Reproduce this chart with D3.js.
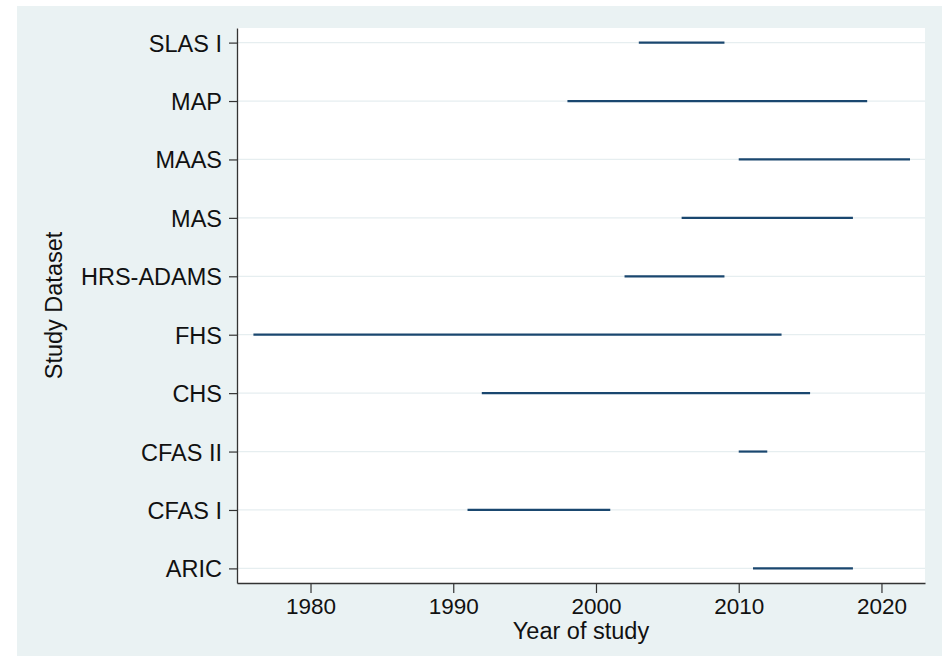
<!DOCTYPE html>
<html>
<head>
<meta charset="utf-8">
<script src="https://cdn.jsdelivr.net/npm/d3@7"></script>
<style>
  body { margin: 0; background: #ffffff; }
  text { font-family: "Liberation Sans", Arial, sans-serif; fill: #111; }
</style>
</head>
<body>
<div id="chart"></div>
<script>
// Study periods
var studies   = ["ARIC", "CFAS I", "CFAS II", "CHS", "FHS", "HRS-ADAMS", "MAS", "MAAS", "MAP", "SLAS I"];
var startYear = [2011, 1991, 2010, 1992, 1976, 2002, 2006, 2010, 1998, 2003];
var endYear   = [2018, 2001, 2012, 2015, 2013, 2009, 2018, 2022, 2019, 2009];
var xTicks    = [1980, 1990, 2000, 2010, 2020];

var width  = 942,
    height = 656,
    margins = {top: 28, right: 17, bottom: 73, left: 237};

var LABEL_SIZE = 23.5,
    NUM_SIZE   = 22.5;

var rows = studies.map(function(s, i){
    return {study: s, start: startYear[i], end: endYear[i]};
});

/* SVG */
var svg = d3.select("#chart")
    .append("svg")
        .attr("width", width)
        .attr("height", height);

/* Graph region background */
svg.append("rect")
    .attr("x", 17)
    .attr("y", 6)
    .attr("width", width - 17)
    .attr("height", height - 6)
    .attr("fill", "#eaf2f3");

/* Scales */
var x = d3.scaleLinear()
    .domain([1974.85, 2023.05])
    .range([margins.left, width - margins.right]);

var y = d3.scalePoint()
    .domain(studies.slice().reverse())
    .range([margins.top, height - margins.bottom])
    .padding(0.25);

/* Plot region */
svg.append("rect")
    .attr("x", margins.left)
    .attr("y", margins.top)
    .attr("width", width - margins.right - margins.left)
    .attr("height", height - margins.bottom - margins.top)
    .attr("fill", "#ffffff");

/* Gridlines */
svg.append("g")
    .attr("class", "grid")
    .selectAll("line")
    .data(studies)
    .enter()
    .append("line")
        .attr("x1", margins.left)
        .attr("x2", width - margins.right)
        .attr("y1", function(d){ return y(d); })
        .attr("y2", function(d){ return y(d); })
        .attr("stroke", "#e6eef0")
        .attr("stroke-width", 1.2);

/* Study ranges */
svg.append("g")
    .attr("class", "ranges")
    .selectAll("line")
    .data(rows)
    .enter()
    .append("line")
        .attr("x1", function(d){ return x(d.start); })
        .attr("x2", function(d){ return x(d.end); })
        .attr("y1", function(d){ return y(d.study); })
        .attr("y2", function(d){ return y(d.study); })
        .attr("stroke", "#1a476f")
        .attr("stroke-width", 2.2);

/* Axes */
var xAxis = svg.append("g")
    .attr("transform", "translate(0," + (height - margins.bottom) + ")")
    .call(d3.axisBottom(x).tickValues(xTicks).tickFormat(d3.format("d")).tickSize(10).tickPadding(5).tickSizeOuter(0));

var yAxis = svg.append("g")
    .attr("transform", "translate(" + margins.left + ",0)")
    .call(d3.axisLeft(y).tickSize(8).tickPadding(7).tickSizeOuter(0));

[xAxis, yAxis].forEach(function(a){
    a.select(".domain").attr("stroke", "#333").attr("stroke-width", 1.3);
    a.selectAll(".tick line").attr("stroke", "#333").attr("stroke-width", 1.2);
    a.selectAll(".tick text")
        .attr("fill", "#111")
        .style("font-family", "'Liberation Sans', Arial, sans-serif");
});
xAxis.selectAll(".tick text").style("font-size", NUM_SIZE + "px");
yAxis.selectAll(".tick text").style("font-size", LABEL_SIZE + "px").attr("dy", "0.36em");

/* Axis titles */
svg.append("text")
    .attr("x", (margins.left + width - margins.right) / 2)
    .attr("y", 639)
    .attr("text-anchor", "middle")
    .style("font-size", LABEL_SIZE + "px")
    .text("Year of study");

svg.append("text")
    .attr("transform", "translate(62," + ((margins.top + height - margins.bottom) / 2) + ") rotate(-90)")
    .attr("text-anchor", "middle")
    .style("font-size", LABEL_SIZE + "px")
    .text("Study Dataset");
</script>
</body>
</html>
